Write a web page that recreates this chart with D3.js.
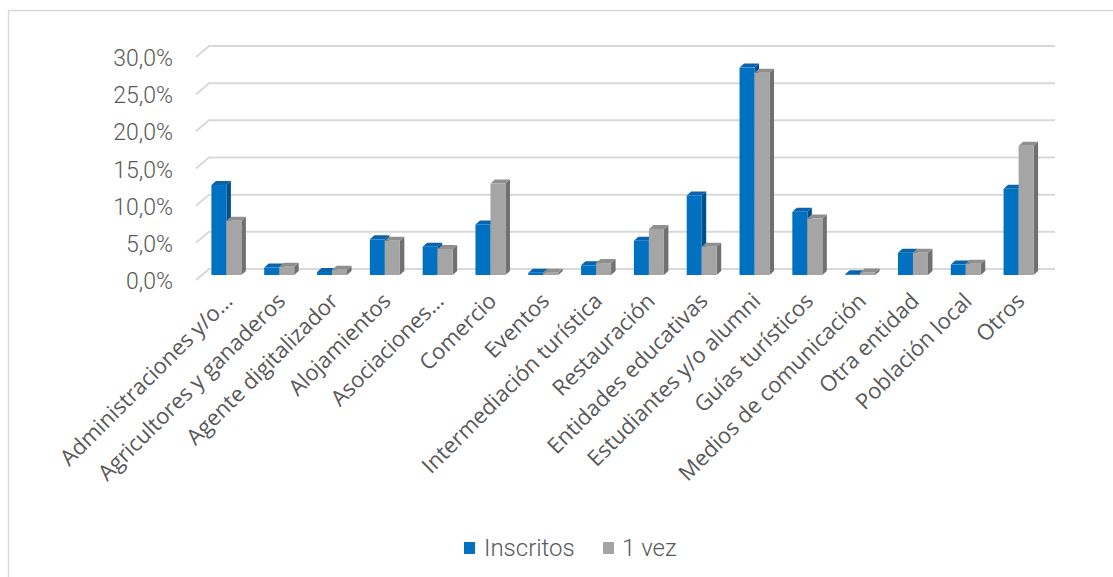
<!DOCTYPE html>
<html>
<head>
<meta charset="utf-8">
<script src="https://cdn.jsdelivr.net/npm/d3@7"></script>
<style>
  html, body { margin: 0; padding: 0; background: #ffffff; }
  svg { display: block; }
</style>
</head>
<body>
<svg id="chart" width="1113" height="577"></svg>
<script>
// Categories and series (percent of participants)
const categories = [
  "Administraciones y/o…",
  "Agricultores y ganaderos",
  "Agente digitalizador",
  "Alojamientos",
  "Asociaciones…",
  "Comercio",
  "Eventos",
  "Intermediación turística",
  "Restauración",
  "Entidades educativas",
  "Estudiantes y/o alumni",
  "Guías turísticos",
  "Medios de comunicación",
  "Otra entidad",
  "Población local",
  "Otros"
];
const inscritos = [12.1, 1.0, 0.4, 4.8, 3.8, 6.8, 0.3, 1.3, 4.6, 10.7, 27.9, 8.5, 0.1, 3.0, 1.4, 11.6];
const unaVez    = [7.3, 1.1, 0.7, 4.6, 3.5, 12.3, 0.3, 1.6, 6.2, 3.8, 27.2, 7.6, 0.35, 3.0, 1.5, 17.4];
const seriesNames = ["Inscritos", "1 vez"];
const yTicks = [0, 5, 10, 15, 20, 25, 30];

const svg = d3.select("#chart");

// Chart frame
svg.append("path")
  .attr("d", "M8.5,590 L8.5,10.5 L1125,10.5")
  .attr("fill", "none")
  .attr("stroke", "#d9d9d9")
  .attr("stroke-width", 1.5);

// Value scale on the front plane of the pseudo-3D box
const yFront = d3.scaleLinear().domain([0, 30]).range([280, 57]);
// Oblique depth offsets
const wall = { dx: 13, dy: -11 };      // back wall relative to front plane
const barPlane = { dy: -5 };           // bar front faces sit slightly behind the front plane
const barDepth = { dx: 4.5, dy: -4 };  // thickness of each column

// Horizontal positions of the column front faces
const x = d3.scaleBand()
  .domain(categories)
  .range([200, 1045])
  .paddingInner(0.432)
  .paddingOuter(0.216);
const xSeries = d3.scaleBand().domain(seriesNames).range([0, x.bandwidth()]);

const wallLeft = 196, wallRight = 1042;

// Gridlines: side-wall diagonal + back-wall line
const grid = svg.append("g").attr("fill", "none").attr("stroke", "#d9d9d9").attr("stroke-width", 2);
yTicks.forEach(t => {
  const yf = yFront(t);
  grid.append("path")
    .attr("d", `M${wallLeft},${yf} L${wallLeft + wall.dx},${yf + wall.dy} L${wallRight + wall.dx},${yf + wall.dy}`);
});

// Tick labels
svg.append("g")
  .selectAll("text")
  .data(yTicks)
  .join("text")
  .attr("x", 173)
  .attr("y", d => yFront(d) + 1)
  .attr("dy", "0.35em")
  .attr("text-anchor", "end")
  .attr("font-family", "Roboto, sans-serif")
  .attr("font-weight", 300)
  .attr("font-size", 23)
  .attr("fill", "#595959")
  .text(d => d.toFixed(1).replace(".", ",") + "%");

// Columns
const palette = {
  "Inscritos": { front: "#0070c0", top: "#0a63ad", side: "#00508c" },
  "1 vez":     { front: "#a5a5a5", top: "#8f8f8f", side: "#707070" }
};

const rows = categories.map((c, i) => ({ cat: c, values: [
  { name: "Inscritos", v: inscritos[i] },
  { name: "1 vez", v: unaVez[i] }
]}));

const bars = svg.append("g");
rows.forEach(r => {
  r.values.forEach(s => {
    const x0 = x(r.cat) + xSeries(s.name);
    const x1 = x0 + xSeries.bandwidth();
    const yb = yFront(0) + barPlane.dy;
    const yt = yFront(s.v) + barPlane.dy;
    const c = palette[s.name];
    const g = bars.append("g");
    // side face
    g.append("path")
      .attr("d", `M${x1},${yb} L${x1 + barDepth.dx},${yb + barDepth.dy} L${x1 + barDepth.dx},${yt + barDepth.dy} L${x1},${yt} Z`)
      .attr("fill", c.side);
    // top face
    g.append("path")
      .attr("d", `M${x0},${yt} L${x0 + barDepth.dx},${yt + barDepth.dy} L${x1 + barDepth.dx},${yt + barDepth.dy} L${x1},${yt} Z`)
      .attr("fill", c.top);
    // front face
    g.append("rect")
      .attr("x", x0).attr("y", yt)
      .attr("width", x1 - x0).attr("height", Math.max(0, yb - yt))
      .attr("fill", c.front);
  });
});

// Category labels, rotated
svg.append("g")
  .selectAll("text")
  .data(categories)
  .join("text")
  .attr("transform", d => `translate(${x(d) + x.bandwidth() / 2 + 2},297) rotate(-45)`)
  .attr("dy", "0.35em")
  .attr("text-anchor", "end")
  .attr("font-family", "'Open Sans', sans-serif")
  .attr("font-size", 22)
  .attr("fill", "#595959")
  .text(d => d);

// Legend
const legend = svg.append("g");
const legendItems = [
  { name: "Inscritos", sx: 464, tx: 484 },
  { name: "1 vez", sx: 603, tx: 622 }
];
legendItems.forEach(it => {
  legend.append("rect")
    .attr("x", it.sx).attr("y", 542)
    .attr("width", 11).attr("height", 12)
    .attr("fill", palette[it.name].front);
  legend.append("text")
    .attr("x", it.tx).attr("y", 556)
    .attr("font-family", "Roboto, sans-serif")
    .attr("font-weight", 300)
    .attr("font-size", 24)
    .attr("fill", "#595959")
    .text(it.name);
});
</script>
</body>
</html>
